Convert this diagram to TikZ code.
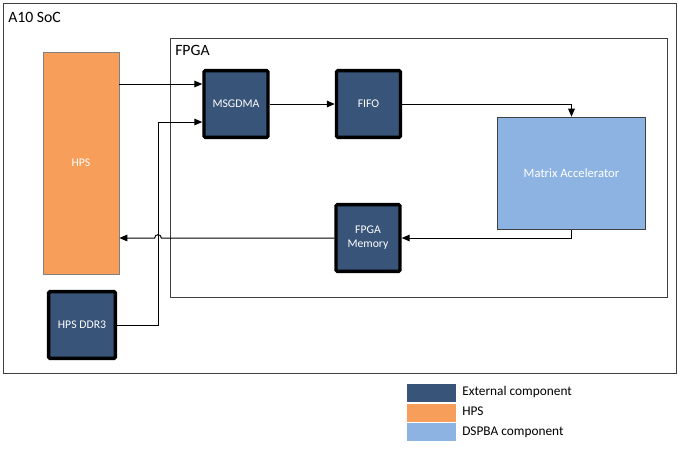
\documentclass[tikz,border=0pt]{standalone}
\usepackage{fontspec}
\setmainfont{Carlito}
\usetikzlibrary{arrows.meta}
\definecolor{extblue}{HTML}{385479}
\definecolor{hpsorange}{HTML}{F79F5A}
\definecolor{dspblue}{HTML}{8DB3E2}
\definecolor{frame}{HTML}{404040}
\tikzset{
  ext/.style={draw=black, line width=2.6pt, fill=extblue, text=white, rounded corners=1pt,
    minimum width=48pt, minimum height=50pt, inner sep=0pt, align=center, font=\fontsize{8.8}{10.5}\selectfont},
  hpsbox/.style={draw=gray, line width=0.6pt, fill=hpsorange, text=white, inner sep=0pt,
    font=\fontsize{8.8}{10.5}\selectfont},
  dspbox/.style={draw=frame, line width=0.75pt, fill=dspblue, text=white, inner sep=0pt,
    font=\fontsize{9.5}{11}\selectfont},
  framebox/.style={draw=frame, line width=0.75pt},
  title/.style={anchor=west, inner sep=0pt, font=\fontsize{11.8}{14}\selectfont},
  arr/.style={draw=black, line width=0.75pt, -{Triangle[length=6pt,width=5pt]}},
  legsw/.style={draw=white, line width=0.5pt, minimum width=37.5pt, minimum height=14.5pt, inner sep=0pt},
  legtext/.style={anchor=west, inner sep=0pt, font=\fontsize{10}{12}\selectfont},
}
\begin{document}
\begin{tikzpicture}[x=0.75pt, y=-0.75pt]
\useasboundingbox (0,0) rectangle (679,461);
% frames
\draw[framebox] (3,3) rectangle (676,373);
\node[title] (soc) at (8,17) {A10 SoC};
\draw[framebox] (170,38) rectangle (667,297);
\node[title] (fpga) at (175,50) {FPGA};
% blocks
\node[hpsbox, minimum width=57pt, minimum height=166.5pt] (hps) at (81,163) {HPS};
\node[ext, minimum width=50pt] (ddr) at (82,325) {HPS DDR3};
\node[ext] (msg) at (236,104) {MSGDMA};
\node[ext] (fifo) at (368.5,104) {FIFO};
\node[dspbox, minimum width=111.5pt, minimum height=84.5pt] (mat) at (571.5,173.5) {Matrix Accelerator};
\node[ext] (mem) at (368,238) {FPGA\\Memory};
% helper coordinates
\coordinate (m1) at ([yshift=15pt]msg.west);
\coordinate (m2) at ([yshift=-13.5pt]msg.west);
\coordinate (jx) at (158,0);
% connectors
\draw[arr] (hps.east |- m1) -- (m1);
\draw[arr] (ddr.east) -| (jx |- m2) -- (m2);
\draw[arr] (msg) -- (fifo);
\draw[arr] (fifo.east) -| (mat.north);
\draw[arr] (mat.south) |- (mem.east);
\draw[arr] (mem.west) -- ([xshift=2.5pt]jx |- mem.west) arc[start angle=0, end angle=180, radius=2.5pt] -- (hps.east |- mem.west);
% legend
\node[legsw, fill=extblue] (l1) at (431,392.5) {};
\node[legsw, fill=hpsorange] (l2) at (431,412.5) {};
\node[legsw, fill=dspblue] (l3) at (431,432) {};
\node[legtext] (t1) at (462,392) {External component};
\node[legtext] (t2) at (462,411) {HPS};
\node[legtext] (t3) at (462,432) {DSPBA component};
\end{tikzpicture}
\end{document}
